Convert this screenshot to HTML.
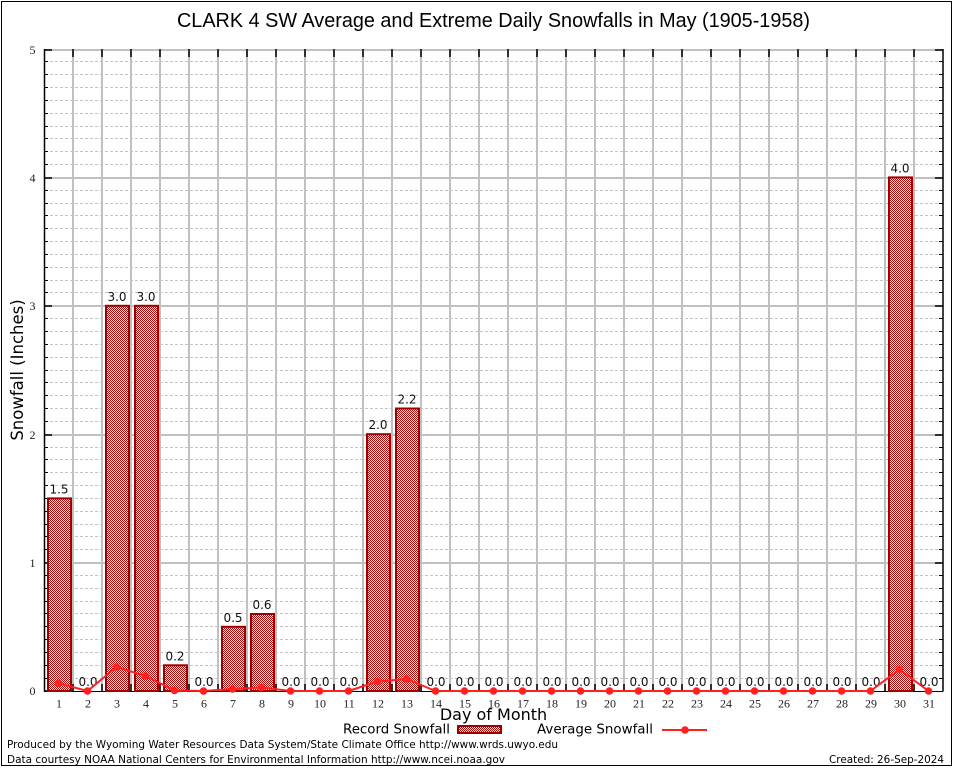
<!DOCTYPE html>
<html><head><meta charset="utf-8"><style>
html,body{margin:0;padding:0;background:#fff;}
svg{display:block;}
.s{font-family:"DejaVu Sans","Liberation Sans",sans-serif;}
.t{font-family:"Liberation Serif","DejaVu Serif",serif;font-size:12px;fill:#222;text-anchor:middle;}
.v{font-family:"DejaVu Sans","Liberation Sans",sans-serif;font-size:12px;fill:#111;text-anchor:middle;}
</style></head><body>
<svg width="954" height="768" viewBox="0 0 954 768" xmlns="http://www.w3.org/2000/svg">
<defs>
<pattern id="ck" patternUnits="userSpaceOnUse" width="2" height="2">
<rect width="2" height="2" fill="#fff"/>
<rect x="0" y="0" width="1" height="1" fill="#b80000"/>
<rect x="1" y="1" width="1" height="1" fill="#b80000"/>
</pattern>
</defs>
<rect x="0" y="0" width="954" height="768" fill="#fff"/>
<rect x="1.5" y="1.5" width="950" height="764" fill="none" stroke="#000" stroke-width="1"/>

<text x="493.5" y="27" font-family="Liberation Sans, Arial, sans-serif" font-size="20" text-anchor="middle" textLength="633" lengthAdjust="spacingAndGlyphs" fill="#000">CLARK 4 SW Average and Extreme Daily Snowfalls in May (1905-1958)</text>

<!-- minor dashed gridlines -->
<g stroke="#c4c4c4" stroke-width="1" stroke-dasharray="3,2" fill="none">
<path d="M45 678.5H943M45 665.5H943M45 652.5H943M45 639.5H943M45 626.5H943M45 613.5H943M45 601.5H943M45 588.5H943M45 575.5H943
M45 549.5H943M45 536.5H943M45 524.5H943M45 511.5H943M45 498.5H943M45 485.5H943M45 472.5H943M45 459.5H943M45 447.5H943
M45 421.5H943M45 408.5H943M45 395.5H943M45 382.5H943M45 370.5H943M45 357.5H943M45 344.5H943M45 331.5H943M45 318.5H943
M45 292.5H943M45 280.5H943M45 267.5H943M45 254.5H943M45 241.5H943M45 228.5H943M45 215.5H943M45 203.5H943M45 190.5H943
M45 164.5H943M45 151.5H943M45 138.5H943M45 126.5H943M45 113.5H943M45 100.5H943M45 87.5H943M45 74.5H943M45 61.5H943"/>
</g>
<!-- major gridlines -->
<g stroke="#c0c0c0" stroke-width="2" fill="none">
<path d="M44 563H943M44 435H943M44 306H943M44 178H943M44 50H943"/>
<path d="M73 49V691M102 49V691M131 49V691M160 49V691M189 49V691M218 49V691M247 49V691M276 49V691M305 49V691M334 49V691M363 49V691M392 49V691M421 49V691M450 49V691M479 49V691M508 49V691M537 49V691M566 49V691M595 49V691M624 49V691M653 49V691M682 49V691M711 49V691M740 49V691M769 49V691M798 49V691M827 49V691M856 49V691M885 49V691M914 49V691"/>
</g>

<!-- axes -->
<g stroke="#000" fill="none">
<path d="M44.5 49V691.5" stroke-width="1.5"/>
<path d="M943 49V691.5" stroke-width="1.5"/>
<path d="M44 691.5H943" stroke-width="1"/>
<!-- left major ticks -->
<path d="M44 563H52M44 435H52M44 306H52M44 178H52M44 50H52M44 691H52" stroke-width="1.5"/>
<!-- right major ticks -->
<path d="M935 563H943M935 435H943M935 306H943M935 178H943M935 50H943" stroke-width="1.5"/>
<!-- minor ticks left/right -->
<path stroke-width="1" d="M44 678.5H48M44 665.5H48M44 652.5H48M44 639.5H48M44 626.5H48M44 613.5H48M44 601.5H48M44 588.5H48M44 575.5H48
M44 549.5H48M44 536.5H48M44 524.5H48M44 511.5H48M44 498.5H48M44 485.5H48M44 472.5H48M44 459.5H48M44 447.5H48
M44 421.5H48M44 408.5H48M44 395.5H48M44 382.5H48M44 370.5H48M44 357.5H48M44 344.5H48M44 331.5H48M44 318.5H48
M44 292.5H48M44 280.5H48M44 267.5H48M44 254.5H48M44 241.5H48M44 228.5H48M44 215.5H48M44 203.5H48M44 190.5H48
M44 164.5H48M44 151.5H48M44 138.5H48M44 126.5H48M44 113.5H48M44 100.5H48M44 87.5H48M44 74.5H48M44 61.5H48
M939 678.5H943M939 665.5H943M939 652.5H943M939 639.5H943M939 626.5H943M939 613.5H943M939 601.5H943M939 588.5H943M939 575.5H943
M939 549.5H943M939 536.5H943M939 524.5H943M939 511.5H943M939 498.5H943M939 485.5H943M939 472.5H943M939 459.5H943M939 447.5H943
M939 421.5H943M939 408.5H943M939 395.5H943M939 382.5H943M939 370.5H943M939 357.5H943M939 344.5H943M939 331.5H943M939 318.5H943
M939 292.5H943M939 280.5H943M939 267.5H943M939 254.5H943M939 241.5H943M939 228.5H943M939 215.5H943M939 203.5H943M939 190.5H943
M939 164.5H943M939 151.5H943M939 138.5H943M939 126.5H943M939 113.5H943M939 100.5H943M939 87.5H943M939 74.5H943M939 61.5H943"/>
<!-- top ticks -->
<path stroke-width="1.5" d="M73 49V57M102 49V57M131 49V57M160 49V57M189 49V57M218 49V57M247 49V57M276 49V57M305 49V57M334 49V57M363 49V57M392 49V57M421 49V57M450 49V57M479 49V57M508 49V57M537 49V57M566 49V57M595 49V57M624 49V57M653 49V57M682 49V57M711 49V57M740 49V57M769 49V57M798 49V57M827 49V57M856 49V57M885 49V57M914 49V57"/>
<!-- bottom ticks -->
<path stroke-width="1.5" d="M73 684V691M102 684V691M131 684V691M160 684V691M189 684V691M218 684V691M247 684V691M276 684V691M305 684V691M334 684V691M363 684V691M392 684V691M421 684V691M450 684V691M479 684V691M508 684V691M537 684V691M566 684V691M595 684V691M624 684V691M653 684V691M682 684V691M711 684V691M740 684V691M769 684V691M798 684V691M827 684V691M856 684V691M885 684V691M914 684V691"/>
</g>

<!-- y tick labels -->
<text class="t" x="32.5" y="695">0</text>
<text class="t" x="32.5" y="567">1</text>
<text class="t" x="32.5" y="439">2</text>
<text class="t" x="32.5" y="310">3</text>
<text class="t" x="32.5" y="182">4</text>
<text class="t" x="32.5" y="54">5</text>

<!-- bars -->
<g fill="url(#ck)" stroke="#a00000" stroke-width="2">
<rect x="48" y="498.4" width="23" height="192.6"/>
<rect x="106" y="305.8" width="23" height="385.2"/>
<rect x="135" y="305.8" width="23" height="385.2"/>
<rect x="164" y="665.3" width="23" height="25.7"/>
<rect x="222" y="626.8" width="23" height="64.2"/>
<rect x="251" y="614" width="23" height="77"/>
<rect x="367" y="434.2" width="23" height="256.8"/>
<rect x="396" y="408.5" width="23" height="282.5"/>
<rect x="889" y="177.4" width="23" height="513.6"/>
</g>

<!-- value labels -->
<g class="v">
<text x="59" y="493.4">1.5</text>
<text x="88" y="686">0.0</text>
<text x="117" y="300.8">3.0</text>
<text x="146" y="300.8">3.0</text>
<text x="175" y="660.3">0.2</text>
<text x="204" y="686">0.0</text>
<text x="233" y="621.8">0.5</text>
<text x="262" y="609">0.6</text>
<text x="291" y="686">0.0</text>
<text x="320" y="686">0.0</text>
<text x="349" y="686">0.0</text>
<text x="378" y="429.2">2.0</text>
<text x="407" y="403.5">2.2</text>
<text x="436" y="686">0.0</text>
<text x="465" y="686">0.0</text>
<text x="494" y="686">0.0</text>
<text x="523" y="686">0.0</text>
<text x="552" y="686">0.0</text>
<text x="581" y="686">0.0</text>
<text x="610" y="686">0.0</text>
<text x="639" y="686">0.0</text>
<text x="668" y="686">0.0</text>
<text x="697" y="686">0.0</text>
<text x="726" y="686">0.0</text>
<text x="755" y="686">0.0</text>
<text x="784" y="686">0.0</text>
<text x="813" y="686">0.0</text>
<text x="842" y="686">0.0</text>
<text x="871" y="686">0.0</text>
<text x="900" y="172.4">4.0</text>
<text x="929" y="686">0.0</text>
</g>

<!-- average line -->
<polyline fill="none" stroke="#ff2020" stroke-width="2" stroke-linejoin="round" points="58.5,683.3 87.5,691 116.5,667 145.5,676 174.5,690.5 203.5,691 232.5,689 261.5,687.5 290.5,691 319.5,691 348.5,691 377.5,681.5 406.5,679 435.5,691 464.5,691 493.5,691 522.5,691 551.5,691 580.5,691 609.5,691 638.5,691 667.5,691 696.5,691 725.5,691 754.5,691 783.5,691 812.5,691 841.5,691 870.5,691 899.5,669.5 928.5,691"/>
<g fill="#ff2020">
<circle cx="58.5" cy="683.3" r="3.8"/><circle cx="87.5" cy="691" r="3.8"/><circle cx="116.5" cy="667" r="3.8"/><circle cx="145.5" cy="676" r="3.8"/><circle cx="174.5" cy="690.5" r="3.8"/><circle cx="203.5" cy="691" r="3.8"/><circle cx="232.5" cy="689" r="3.8"/><circle cx="261.5" cy="687.5" r="3.8"/><circle cx="290.5" cy="691" r="3.8"/><circle cx="319.5" cy="691" r="3.8"/><circle cx="348.5" cy="691" r="3.8"/><circle cx="377.5" cy="681.5" r="3.8"/><circle cx="406.5" cy="679" r="3.8"/><circle cx="435.5" cy="691" r="3.8"/><circle cx="464.5" cy="691" r="3.8"/><circle cx="493.5" cy="691" r="3.8"/><circle cx="522.5" cy="691" r="3.8"/><circle cx="551.5" cy="691" r="3.8"/><circle cx="580.5" cy="691" r="3.8"/><circle cx="609.5" cy="691" r="3.8"/><circle cx="638.5" cy="691" r="3.8"/><circle cx="667.5" cy="691" r="3.8"/><circle cx="696.5" cy="691" r="3.8"/><circle cx="725.5" cy="691" r="3.8"/><circle cx="754.5" cy="691" r="3.8"/><circle cx="783.5" cy="691" r="3.8"/><circle cx="812.5" cy="691" r="3.8"/><circle cx="841.5" cy="691" r="3.8"/><circle cx="870.5" cy="691" r="3.8"/><circle cx="899.5" cy="669.5" r="3.8"/><circle cx="928.5" cy="691" r="3.8"/>
</g>

<!-- x tick labels -->
<g class="t">
<text x="59" y="707.5">1</text><text x="88" y="707.5">2</text><text x="117" y="707.5">3</text><text x="146" y="707.5">4</text><text x="175" y="707.5">5</text><text x="204" y="707.5">6</text><text x="233" y="707.5">7</text><text x="262" y="707.5">8</text><text x="291" y="707.5">9</text><text x="320" y="707.5">10</text><text x="349" y="707.5">11</text><text x="378" y="707.5">12</text><text x="407" y="707.5">13</text><text x="436" y="707.5">14</text><text x="465" y="707.5">15</text><text x="494" y="707.5">16</text><text x="523" y="707.5">17</text><text x="552" y="707.5">18</text><text x="581" y="707.5">19</text><text x="610" y="707.5">20</text><text x="639" y="707.5">21</text><text x="668" y="707.5">22</text><text x="697" y="707.5">23</text><text x="726" y="707.5">24</text><text x="755" y="707.5">25</text><text x="784" y="707.5">26</text><text x="813" y="707.5">27</text><text x="842" y="707.5">28</text><text x="871" y="707.5">29</text><text x="900" y="707.5">30</text><text x="929" y="707.5">31</text>
</g>

<!-- axis titles -->
<text class="s" x="493.5" y="720" font-size="16" text-anchor="middle" fill="#000">Day of Month</text>
<text class="s" transform="translate(23,370) rotate(-90)" x="0" y="0" font-size="16.5" text-anchor="middle" fill="#000">Snowfall (Inches)</text>

<!-- legend -->
<text class="s" x="343" y="733.5" font-size="13" textLength="107" lengthAdjust="spacingAndGlyphs" fill="#000">Record Snowfall</text>
<rect x="458" y="726" width="43" height="7" fill="url(#ck)" stroke="#a00000" stroke-width="2"/>
<text class="s" x="537" y="733.5" font-size="13" textLength="116" lengthAdjust="spacingAndGlyphs" fill="#000">Average Snowfall</text>
<path d="M662 730H707" stroke="#ff2020" stroke-width="2"/>
<circle cx="685" cy="730" r="3.8" fill="#ff2020"/>

<!-- footer -->
<text class="s" x="7" y="748" font-size="11" textLength="551" lengthAdjust="spacingAndGlyphs" fill="#000">Produced by the Wyoming Water Resources Data System/State Climate Office http://www.wrds.uwyo.edu</text>
<text class="s" x="7" y="763" font-size="11" textLength="498" lengthAdjust="spacingAndGlyphs" fill="#000">Data courtesy NOAA National Centers for Environmental Information http://www.ncei.noaa.gov</text>
<text class="s" x="944" y="763" font-size="11" text-anchor="end" textLength="115" lengthAdjust="spacingAndGlyphs" fill="#000">Created: 26-Sep-2024</text>
</svg>
</body></html>
